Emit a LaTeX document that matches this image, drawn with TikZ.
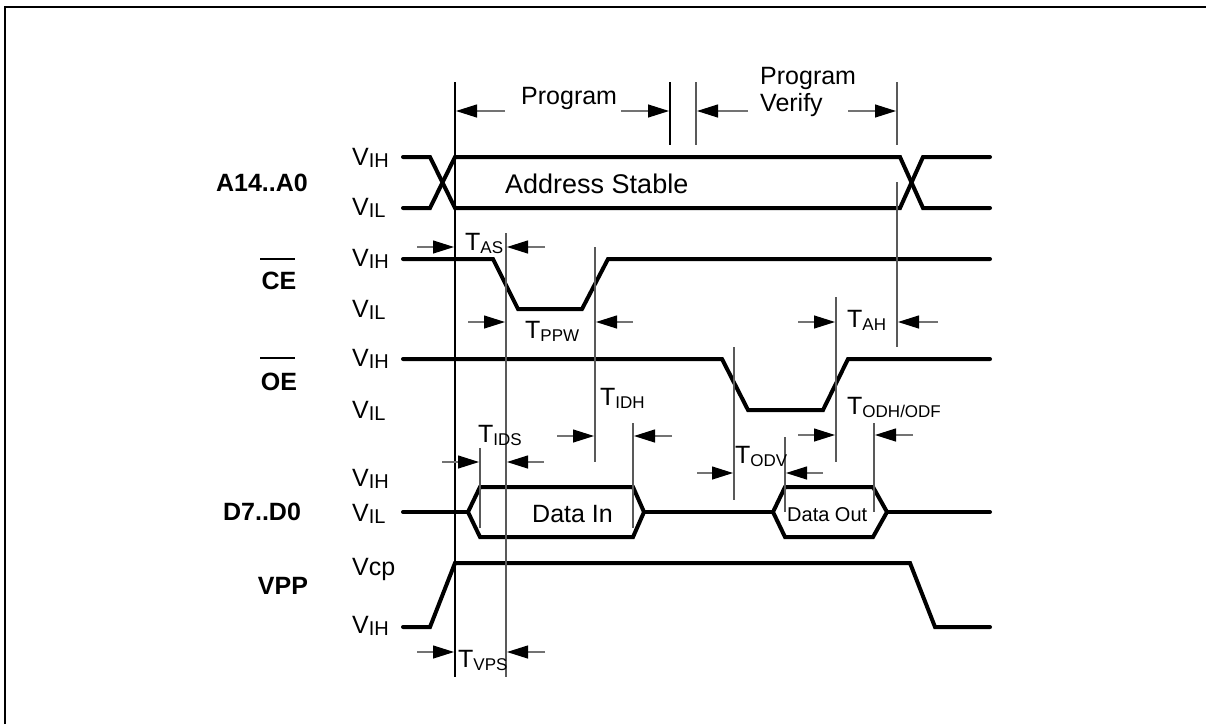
\documentclass[tikz,border=0pt]{standalone}
\usepackage{fontspec}
\setmainfont{Liberation Sans}
\usetikzlibrary{arrows.meta}
\newcommand\Vlab[1]{V\raisebox{-2pt}{\fontsize{20}{20}\selectfont #1}}
\newcommand\Tlab[1]{T\raisebox{-3pt}{\fontsize{17}{17}\selectfont #1}}
\newcommand\dimar[3]{\coordinate (#1a) at #2; \coordinate (#1b) at #3; \draw[dimline] (#1a) -- (#1b);}
\begin{document}
\begin{tikzpicture}[x=1pt,y=-1pt,
  sig/.style={line width=4pt,line cap=round,line join=miter},
  guide/.style={line width=1.2pt,draw=black!65},
  guideb/.style={line width=1.2pt,draw=black},
  dimline/.style={draw=black!55,line width=1.2pt,-{Triangle[length=21pt,width=13pt,color=black]}},
  txt/.style={inner sep=0pt,anchor=base west,font=\fontsize{25}{28}\selectfont},
  stxt/.style={inner sep=0pt,anchor=base west,font=\fontsize{20}{24}\selectfont},
  sname/.style={inner sep=0pt,font=\fontsize{25}{28}\selectfont\bfseries},
  obar/.style={line width=2pt}]
\useasboundingbox (0,0) rectangle (1206,724);
% frame
\coordinate (fA) at (5,724); \coordinate (fB) at (5,7); \coordinate (fC) at (1206,7);
\draw[line width=2.2pt] (fA) -- (fB) -- (fC);

% signal names
\node[sname] (nA) at (262,183) {A14..A0};
\node[sname] (nCE) at (279,281) {CE};
\node[sname] (nOE) at (279,382) {OE};
\node[sname] (nD) at (262,512) {D7..D0};
\node[sname] (nV) at (283,586) {VPP};
\coordinate (ceb1) at (260,259); \coordinate (ceb2) at (295,259);
\draw[obar] (ceb1) -- (ceb2);
\coordinate (oeb1) at (260,358); \coordinate (oeb2) at (295,358);
\draw[obar] (oeb1) -- (oeb2);

% level labels
\node[txt] (l1) at (352,165) {\Vlab{IH}};
\node[txt] (l2) at (352,215) {\Vlab{IL}};
\node[txt] (l3) at (352,266) {\Vlab{IH}};
\node[txt] (l4) at (352,317) {\Vlab{IL}};
\node[txt] (l5) at (352,366) {\Vlab{IH}};
\node[txt] (l6) at (352,418) {\Vlab{IL}};
\node[txt] (l7) at (352,486) {\Vlab{IH}};
\node[txt] (l8) at (352,521) {\Vlab{IL}};
\node[txt] (l9) at (352,575) {Vcp};
\node[txt] (l10) at (352,633) {\Vlab{IH}};

% A14..A0
\draw[sig] (403,157) -- (430,157) -- (455,208) -- (900,208) -- (923,157) -- (990,157);
\draw[sig] (403,208) -- (430,208) -- (455,157) -- (900,157) -- (923,208) -- (990,208);
\node[txt,font=\fontsize{27}{30}\selectfont] (as) at (505,193) {Address Stable};

% CE
\draw[sig] (403,259) -- (493,259) -- (518,309) -- (582,309) -- (608,259) -- (990,259);
% OE
\draw[sig] (403,359) -- (722,359) -- (748,410) -- (823,410) -- (848,359) -- (990,359);
% D7..D0
\draw[sig] (403,512) -- (468,512);
\draw[sig] (468,512) -- (480,487) -- (633,487) -- (644,512) -- (633,537) -- (480,537) -- cycle;
\draw[sig] (644,512) -- (773,512);
\draw[sig] (773,512) -- (785,487) -- (873,487) -- (887,512) -- (873,537) -- (785,537) -- cycle;
\draw[sig] (887,512) -- (990,512);
\node[txt] (din) at (532,522) {Data In};
\node[stxt] (dout) at (787,521) {Data Out};
% VPP
\draw[sig] (403,627) -- (430,627) -- (455,563) -- (910,563) -- (935,627) -- (990,627);

% guide lines
\coordinate (g1a) at (455,82);  \coordinate (g1b) at (455,677); \draw[guideb] (g1a) -- (g1b);
\coordinate (g2a) at (506,233); \coordinate (g2b) at (506,677); \draw[guide] (g2a) -- (g2b);
\coordinate (g3a) at (595,247); \coordinate (g3b) at (595,462); \draw[guide] (g3a) -- (g3b);
\coordinate (g4a) at (670,82);  \coordinate (g4b) at (670,145); \draw[guideb] (g4a) -- (g4b);
\coordinate (g5a) at (696,82);  \coordinate (g5b) at (696,145); \draw[guide] (g5a) -- (g5b);
\coordinate (g6a) at (897,82);  \coordinate (g6b) at (897,145); \draw[guide] (g6a) -- (g6b);
\coordinate (g7a) at (897,182); \coordinate (g7b) at (897,347); \draw[guide] (g7a) -- (g7b);
\coordinate (g8a) at (734,347); \coordinate (g8b) at (734,500); \draw[guide] (g8a) -- (g8b);
\coordinate (g9a) at (836,297); \coordinate (g9b) at (836,462); \draw[guide] (g9a) -- (g9b);
\coordinate (g10a) at (480,448); \coordinate (g10b) at (480,528); \draw[guide] (g10a) -- (g10b);
\coordinate (g11a) at (633,423); \coordinate (g11b) at (633,528); \draw[guide] (g11a) -- (g11b);
\coordinate (g12a) at (785,437); \coordinate (g12b) at (785,512); \draw[guide] (g12a) -- (g12b);
\coordinate (g13a) at (874,423); \coordinate (g13b) at (874,512); \draw[guide] (g13a) -- (g13b);

% dimension arrows
\dimar{p1}{(505,111)}{(456,111)}
\dimar{p2}{(621,111)}{(669,111)}
\dimar{p3}{(748,111)}{(697,111)}
\dimar{p4}{(848,111)}{(896,111)}
\dimar{as1}{(417,247)}{(454,247)}
\dimar{as2}{(545,247)}{(507,247)}
\dimar{pw1}{(468,322)}{(505,322)}
\dimar{pw2}{(633,322)}{(596,322)}
\dimar{ah1}{(798,322)}{(835,322)}
\dimar{ah2}{(938,322)}{(898,322)}
\dimar{ih1}{(557,436)}{(594,436)}
\dimar{ih2}{(672,436)}{(634,436)}
\dimar{od1}{(798,435)}{(835,435)}
\dimar{od2}{(913,435)}{(875,435)}
\dimar{is1}{(442,462)}{(479,462)}
\dimar{is2}{(544,462)}{(507,462)}
\dimar{ov1}{(697,473)}{(733,473)}
\dimar{ov2}{(823,473)}{(786,473)}
\dimar{vp1}{(417,652)}{(454,652)}
\dimar{vp2}{(545,652)}{(507,652)}

% top labels
\node[txt] (prog) at (521,104) {Program};
\node[txt] (pv1) at (760,84) {Program};
\node[txt] (pv2) at (760,111) {Verify};

% timing labels
\node[txt] (tas) at (465,250) {\Tlab{AS}};
\node[txt] (tppw) at (525,338) {\Tlab{PPW}};
\node[txt] (tah) at (847,327) {\Tlab{AH}};
\node[txt] (todh) at (847,414) {\Tlab{ODH/ODF}};
\node[txt] (tidh) at (600,405) {\Tlab{IDH}};
\node[txt] (tids) at (478,442) {\Tlab{IDS}};
\node[txt] (todv) at (735,463) {\Tlab{ODV}};
\node[txt] (tvps) at (458,667) {\Tlab{VPS}};
\end{tikzpicture}
\end{document}
